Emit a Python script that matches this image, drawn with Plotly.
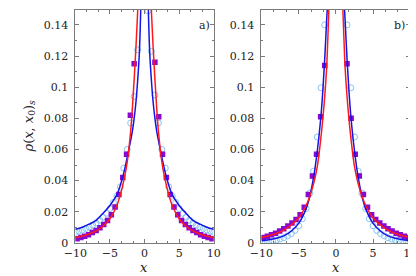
import plotly.graph_objects as go

# ---------------- data ----------------
x_line = [-10, -9, -8, -7, -6, -5, -4, -3.5, -3, -2.5, -2, -1.75, -1.5, -1.25, -1, -0.75, -0.5, -0.25, 0,
          0.25, 0.5, 0.75, 1, 1.25, 1.5, 1.75, 2, 2.5, 3, 3.5, 4, 5, 6, 7, 8, 9, 10]

red_a = [0.0035, 0.0044, 0.0057, 0.0077, 0.0107, 0.0155, 0.024, 0.031, 0.040, 0.052, 0.072, 0.087, 0.105, 0.125, 0.148, 0.18, 0.24, 0.33, 0.45,
         0.33, 0.24, 0.18, 0.148, 0.125, 0.105, 0.087, 0.072, 0.052, 0.040, 0.031, 0.024, 0.0155, 0.0107, 0.0077, 0.0057, 0.0044, 0.0035]
blue_a = [0.0087, 0.0100, 0.0120, 0.0145, 0.019, 0.024, 0.031, 0.037, 0.045, 0.055, 0.066, 0.072, 0.080, 0.090, 0.104, 0.122, 0.16, 0.24, 0.40,
          0.24, 0.16, 0.122, 0.104, 0.090, 0.080, 0.072, 0.066, 0.055, 0.045, 0.037, 0.031, 0.024, 0.019, 0.0145, 0.0120, 0.0100, 0.0087]

red_b = [0.0036, 0.0046, 0.0060, 0.0082, 0.0115, 0.016, 0.024, 0.030, 0.038, 0.049, 0.068, 0.080, 0.094, 0.112, 0.142, 0.18, 0.25, 0.34, 0.45,
         0.34, 0.25, 0.18, 0.142, 0.112, 0.094, 0.080, 0.068, 0.049, 0.038, 0.030, 0.024, 0.016, 0.0115, 0.0082, 0.0060, 0.0046, 0.0036]
blue_b = [0.0013, 0.0020, 0.0030, 0.0045, 0.0075, 0.0125, 0.022, 0.030, 0.042, 0.059, 0.082, 0.098, 0.118, 0.142, 0.165, 0.20, 0.25, 0.32, 0.40,
          0.32, 0.25, 0.20, 0.165, 0.142, 0.118, 0.098, 0.082, 0.059, 0.042, 0.030, 0.022, 0.0125, 0.0075, 0.0045, 0.0030, 0.0020, 0.0013]

x_sq = [-9.75, -9.2, -8.65, -8.1, -7.55, -7.0, -6.45, -5.9, -5.35, -4.8, -4.25, -3.7, -3.15, -2.6, -2.05, -1.5,
        1.5, 2.05, 2.6, 3.15, 3.7, 4.25, 4.8, 5.35, 5.9, 6.45, 7.0, 7.55, 8.1, 8.65, 9.2, 9.75]
sq_a = [0.0027, 0.0035, 0.0043, 0.0053, 0.0066, 0.0080, 0.0097, 0.0118, 0.0143, 0.018, 0.023, 0.031, 0.042, 0.057, 0.082, 0.115,
        0.116, 0.081, 0.057, 0.042, 0.031, 0.023, 0.018, 0.0143, 0.0118, 0.0097, 0.0080, 0.0066, 0.0053, 0.0043, 0.0035, 0.0027]
sq_b = [0.0035, 0.0042, 0.0052, 0.0062, 0.0077, 0.0091, 0.0108, 0.0128, 0.0150, 0.018, 0.0229, 0.031, 0.043, 0.057, 0.081, 0.114,
        0.115, 0.080, 0.057, 0.043, 0.031, 0.0229, 0.018, 0.0150, 0.0128, 0.0108, 0.0091, 0.0077, 0.0062, 0.0052, 0.0042, 0.0035]

x_ci = [-10, -9.5, -9, -8.5, -8, -7.5, -7, -6.5, -6, -5.5, -5, -4.5, -4, -3.5, -3, -2.5, -2, -1.5, -1, -0.5,
        0.5, 1, 1.5, 2, 2.5, 3, 3.5, 4, 4.5, 5, 5.5, 6, 6.5, 7, 7.5, 8, 8.5, 9, 9.5, 10]
ci_a = [0.0068, 0.0075, 0.0083, 0.0092, 0.0102, 0.0114, 0.0128, 0.0145, 0.0165, 0.0190, 0.022, 0.026, 0.030, 0.036, 0.048, 0.060, 0.077, 0.094, 0.124, 0.16,
        0.149, 0.123, 0.095, 0.077, 0.060, 0.048, 0.036, 0.030, 0.026, 0.022, 0.0190, 0.0165, 0.0145, 0.0128, 0.0114, 0.0102, 0.0092, 0.0083, 0.0075, 0.0068]
ci_b = [0.0004, 0.0006, 0.0009, 0.0013, 0.0018, 0.0025, 0.0033, 0.0045, 0.0060, 0.0080, 0.011, 0.0155, 0.022, 0.032, 0.046, 0.068, 0.0996, 0.140, 0.2, 0.3,
        0.3, 0.2, 0.140, 0.0996, 0.068, 0.046, 0.032, 0.022, 0.0155, 0.011, 0.0080, 0.0060, 0.0045, 0.0033, 0.0025, 0.0018, 0.0013, 0.0009, 0.0006, 0.0004]

x_ticks = [-10, -5, 0, 5, 10]
x_ticktext = ["\u221210", "\u22125", "0", "5", "10"]
y_ticks = [0, 0.02, 0.04, 0.06, 0.08, 0.1, 0.12, 0.14]
y_ticktext = ["0", "0.02", "0.04", "0.06", "0.08", "0.1", "0.12", "0.14"]

# ---------------- styles ----------------
RED = "#ff1a1a"
BLUE = "#1414e6"
PURPLE = "#8a08d0"
LIGHTBLUE = "#86c5f2"
FRAME = "#7a7a7a"
FONT = "DejaVu Serif, Liberation Serif, serif"
TXT = "#222222"

fig = go.Figure()

for xa, ya, ci, sq, red, blue in [("x", "y", ci_a, sq_a, red_a, blue_a),
                                  ("x2", "y2", ci_b, sq_b, red_b, blue_b)]:
    fig.add_trace(go.Scatter(x=x_ci, y=ci, mode="markers", xaxis=xa, yaxis=ya,
                             marker=dict(symbol="circle-open", size=6, color=LIGHTBLUE,
                                         line=dict(width=1, color=LIGHTBLUE)),
                             showlegend=False))
    fig.add_trace(go.Scatter(x=x_sq, y=sq, mode="markers", xaxis=xa, yaxis=ya,
                             marker=dict(symbol="square", size=5.5, color=PURPLE,
                                         line=dict(width=0)),
                             showlegend=False))
    fig.add_trace(go.Scatter(x=x_line, y=blue, mode="lines", xaxis=xa, yaxis=ya,
                             line=dict(color=BLUE, width=1.5, shape="spline", smoothing=1.0),
                             showlegend=False))
    fig.add_trace(go.Scatter(x=x_line, y=red, mode="lines", xaxis=xa, yaxis=ya,
                             line=dict(color=RED, width=1.5, shape="spline", smoothing=1.0),
                             showlegend=False))

common = dict(showline=True, linecolor=FRAME, linewidth=1, mirror="allticks",
              ticks="inside", ticklen=4, tickwidth=1, tickcolor=FRAME,
              showgrid=False, zeroline=False,
              tickfont=dict(family=FONT, size=11, color=TXT))

xcommon = dict(common, range=[-10, 10], tickmode="array", tickvals=x_ticks, ticktext=x_ticktext,
               ticklabelstandoff=0,
               minor=dict(ticks="inside", ticklen=2, tickcolor=FRAME, dtick=5 / 3, tick0=-10, showgrid=False))
ycommon = dict(common, range=[0, 0.1496], tickmode="array", tickvals=y_ticks, ticktext=y_ticktext,
               ticklabelstandoff=4,
               minor=dict(ticks="inside", ticklen=2, tickcolor=FRAME, dtick=0.01, tick0=0, showgrid=False))

W, H = 416, 276
fig.update_layout(
    width=W, height=H,
    margin=dict(l=0, r=0, t=0, b=0),
    paper_bgcolor="white", plot_bgcolor="white",
    xaxis=dict(xcommon, domain=[58 / W, 203 / W], anchor="y"),
    yaxis=dict(ycommon, domain=[1 - 241 / H, 1 - 2 / H], anchor="x"),
    xaxis2=dict(xcommon, domain=[253 / W, 409 / W], anchor="y2"),
    yaxis2=dict(ycommon, domain=[1 - 241 / H, 1 - 2 / H], anchor="x2"),
    showlegend=False,
)

ann_font = dict(family=FONT, size=11, color=TXT)
fig.add_annotation(text="a)", xref="paper", yref="paper", x=201 / W, y=1 - 18 / H,
                   xanchor="right", yanchor="middle", showarrow=False, font=ann_font)
fig.add_annotation(text="b)", xref="paper", yref="paper", x=406 / W, y=1 - 18 / H,
                   xanchor="right", yanchor="middle", showarrow=False, font=ann_font)
fig.add_annotation(text="<i>x</i>", xref="paper", yref="paper", x=130 / W, y=0,
                   xanchor="center", yanchor="bottom", showarrow=False,
                   font=dict(family=FONT, size=13, color=TXT))
fig.add_annotation(text="<i>x</i>", xref="paper", yref="paper", x=331 / W, y=0,
                   xanchor="center", yanchor="bottom", showarrow=False,
                   font=dict(family=FONT, size=13, color=TXT))
fig.add_annotation(text="<i>ρ</i>(<i>x</i>, <i>x</i><sub>0</sub>)<sub><i>s</i></sub>",
                   xref="paper", yref="paper", x=10 / W, y=1 - 121 / H, textangle=-90,
                   xanchor="center", yanchor="middle", showarrow=False,
                   font=dict(family=FONT, size=13, color=TXT))

fig.write_html("out.html")
